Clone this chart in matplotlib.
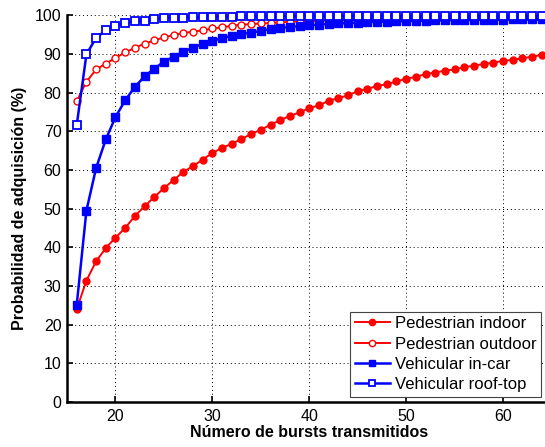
import numpy as np
import matplotlib
matplotlib.use("Agg")
import matplotlib.pyplot as plt

plt.rcParams['font.family'] = ['Liberation Sans', 'DejaVu Sans']

bursts = list(range(16, 65))

ped_indoor = [24.0, 31.4, 36.4, 39.8, 42.5, 45.0, 48.1, 50.6, 53.0, 55.3,
              57.4, 59.5, 61.0, 62.7, 64.4, 65.7, 66.8, 68.0, 69.3, 70.4,
              71.7, 72.9, 74.0, 74.9, 76.0, 76.7, 77.9, 78.6, 79.3, 80.4,
              81.0, 81.7, 82.2, 82.9, 83.6, 84.1, 84.8, 85.2, 85.7, 86.0,
              86.6, 87.0, 87.4, 87.8, 88.2, 88.5, 88.9, 89.3, 89.8]

ped_outdoor = [77.8, 82.8, 86.0, 87.5, 89.0, 90.4, 91.6, 92.7, 93.5, 94.3,
               94.9, 95.4, 95.8, 96.1, 96.6, 96.9, 97.3, 97.6, 97.7, 97.9,
               98.0, 98.2, 98.3, 98.4, 98.5, 98.6, 98.6, 98.7, 98.7, 98.8,
               98.8, 98.8, 98.9, 98.9, 98.9, 99.0, 99.0, 99.0, 99.0, 99.1,
               99.1, 99.1, 99.1, 99.1, 99.2, 99.2, 99.2, 99.2, 99.2]

veh_incar = [25.1, 49.5, 60.5, 67.9, 73.7, 78.0, 81.5, 84.2, 86.2, 88.0,
             89.3, 90.6, 91.6, 92.7, 93.4, 94.1, 94.7, 95.2, 95.5, 96.0,
             96.4, 96.7, 97.0, 97.2, 97.4, 97.6, 97.8, 97.9, 98.0, 98.1,
             98.3, 98.3, 98.4, 98.5, 98.5, 98.6, 98.6, 98.7, 98.7, 98.8,
             98.8, 98.8, 98.9, 98.9, 98.9, 99.0, 99.0, 99.0, 99.0]

veh_rooftop = [71.6, 89.9, 94.2, 96.1, 97.3, 98.0, 98.5, 98.6, 99.1, 99.2,
               99.4, 99.4, 99.5, 99.5, 99.6, 99.6, 99.6, 99.7, 99.7, 99.7,
               99.7, 99.7, 99.8, 99.8, 99.8, 99.8, 99.8, 99.8, 99.8, 99.8,
               99.8, 99.8, 99.8, 99.8, 99.8, 99.8, 99.8, 99.8, 99.8, 99.8,
               99.8, 99.8, 99.8, 99.8, 99.8, 99.8, 99.8, 99.8, 99.8]

labels = ["Pedestrian indoor", "Pedestrian outdoor",
          "Vehicular in-car", "Vehicular roof-top"]

fig = plt.figure(figsize=(5.45, 4.47), dpi=100)
ax = fig.add_axes([0.123, 0.1007, 0.889, 0.865])

ax.plot(bursts, ped_indoor, '-o', color='#ff0000', lw=1.4, ms=5,
        mfc='#ff0000', mec='#ff0000', label=labels[0], clip_on=False)
ax.plot(bursts, ped_outdoor, '-o', color='#ff0000', lw=1.4, ms=5,
        mfc='white', mec='#ff0000', mew=1.0, label=labels[1], clip_on=False)
ax.plot(bursts, veh_incar, '-s', color='#0000ff', lw=1.8, ms=6,
        mfc='#0000ff', mec='#0000ff', label=labels[2], clip_on=False)
ax.plot(bursts, veh_rooftop, '-s', color='#0000ff', lw=1.8, ms=6,
        mfc='white', mec='#0000ff', mew=1.3, label=labels[3], clip_on=False)

ax.set_xlim(15, 65)
ax.set_ylim(0, 100)
ax.set_xticks([20, 30, 40, 50, 60])
ax.set_yticks(np.arange(0, 101, 10))
ax.tick_params(direction='in', labelsize=11.5, length=4, width=1.2)
ax.tick_params(axis='x', pad=5)
ax.tick_params(axis='y', pad=4)
ax.grid(True, linestyle=(0, (1, 3)), color='black', lw=0.7)
ax.spines['top'].set_visible(False)
ax.spines['right'].set_visible(False)
ax.spines['left'].set_linewidth(1.8)
ax.spines['bottom'].set_linewidth(1.8)

ax.set_xlabel("Número de bursts transmitidos", fontsize=11.5, fontweight='bold',
              labelpad=1)
ax.set_ylabel("Probabilidad de adquisición (%)", fontsize=11.5, fontweight='bold',
              labelpad=6)

leg = ax.legend(loc='lower right', bbox_to_anchor=(0.978, 0.013), fontsize=12,
                fancybox=False, framealpha=1, edgecolor='#444444',
                handlelength=2.1, handletextpad=0.3, borderpad=0.28,
                labelspacing=0.32, borderaxespad=0)
leg.get_frame().set_linewidth(0.8)
for h in leg.legend_handles:
    h.set_markersize(4.5)

fig.savefig("out.png", dpi=100)
